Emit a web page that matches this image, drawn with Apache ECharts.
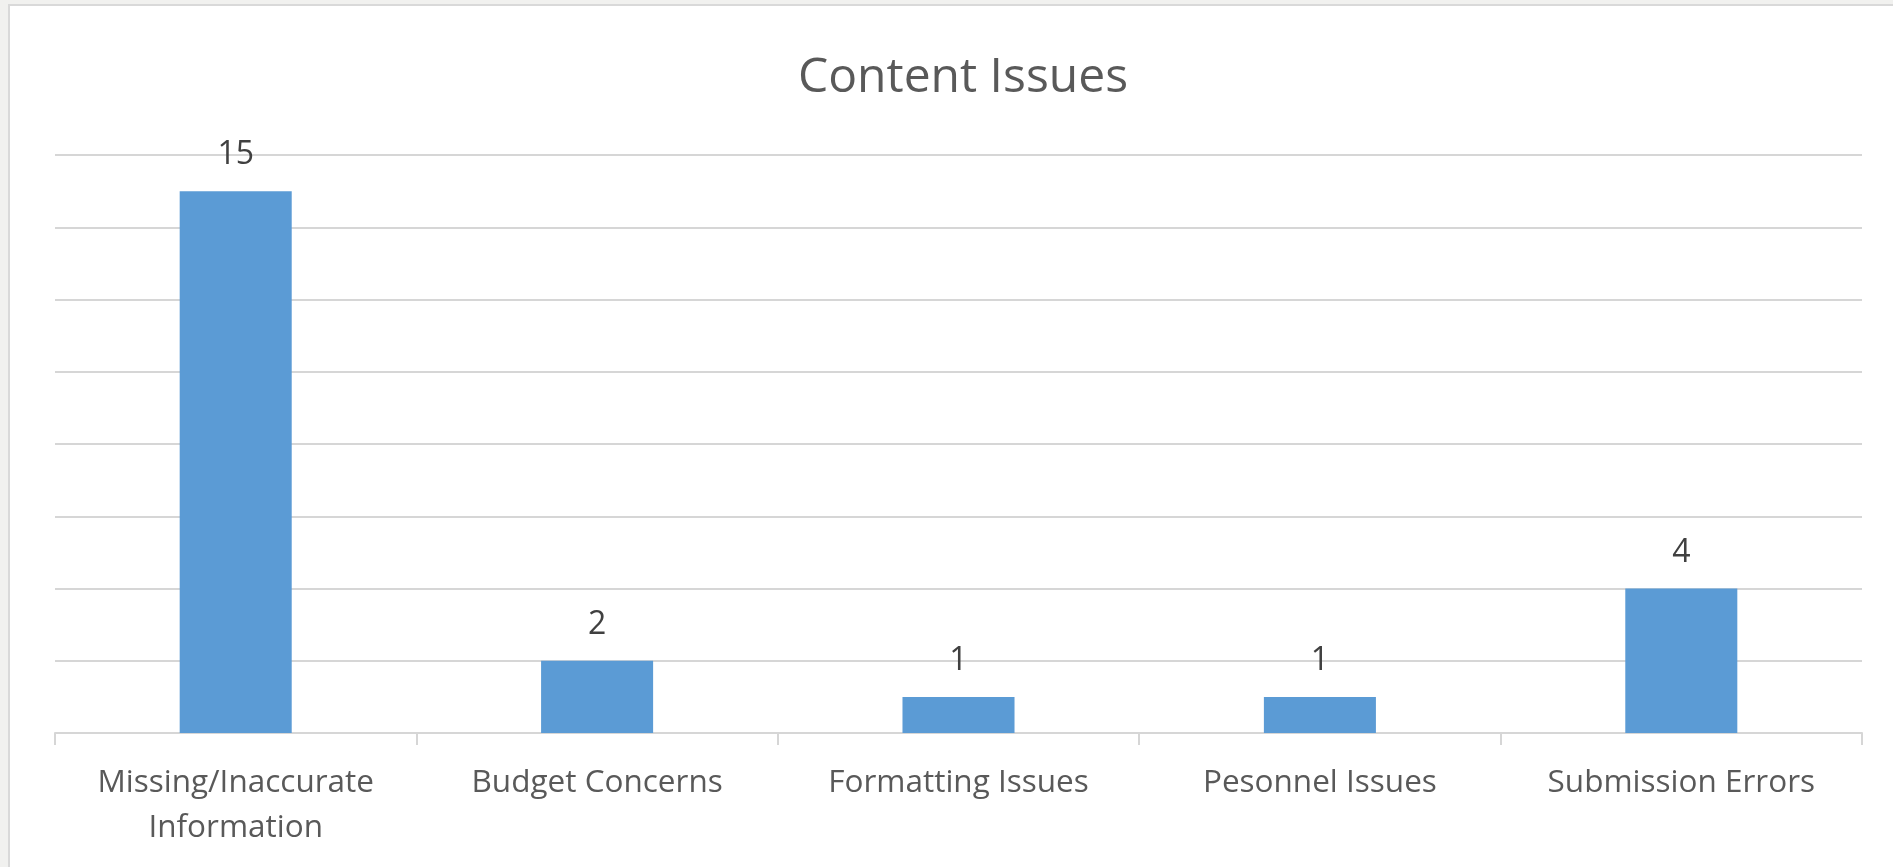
<!DOCTYPE html>
<html>
<head>
<meta charset="utf-8">
<script src="https://cdn.jsdelivr.net/npm/echarts@6/dist/echarts.min.js"></script>
<style>
  html, body { margin: 0; padding: 0; width: 1893px; height: 867px; background: #f1f1ef; overflow: hidden; }
  #frame { position: absolute; left: 8px; top: 4px; right: -4px; bottom: -4px; background: #ffffff; border: 2px solid #d9d9d9; }
  #chart { position: absolute; left: 0; top: 0; width: 1893px; height: 867px; }
</style>
</head>
<body>
<div id="frame"></div>
<div id="chart"></div>
<script>
const titleText = 'Content Issues';
const categories = ['Missing/Inaccurate\nInformation', 'Budget Concerns', 'Formatting Issues', 'Pesonnel Issues', 'Submission Errors'];
const values = [15, 2, 1, 1, 4];
const yMin = 0, yMax = 16, yInterval = 2;

const chart = echarts.init(document.getElementById('chart'), null, { renderer: 'canvas' });
chart.setOption({
  backgroundColor: 'transparent',
  animation: false,
  title: {
    text: titleText,
    left: 958,
    top: 44,
    textAlign: 'center',
    textStyle: { fontFamily: 'Open Sans', fontSize: 48, fontWeight: 'normal', color: '#595959', lineHeight: 58 }
  },
  grid: { left: 55, right: 31, top: 155, bottom: 134, containLabel: false },
  xAxis: {
    type: 'category',
    data: categories,
    boundaryGap: true,
    axisLine: { show: true, lineStyle: { color: '#d6d6d6', width: 2 } },
    axisTick: { show: true, length: 12, alignWithLabel: false, lineStyle: { color: '#d6d6d6', width: 2 } },
    axisLabel: { margin: 28, fontFamily: 'Open Sans', fontSize: 31.5, color: '#595959', lineHeight: 45, interval: 0 }
  },
  yAxis: {
    type: 'value',
    min: yMin, max: yMax, interval: yInterval,
    axisLine: { show: false },
    axisTick: { show: false },
    axisLabel: { show: false },
    splitLine: { show: true, lineStyle: { color: '#d6d6d6', width: 2 } }
  },
  series: [{
    type: 'bar',
    data: values,
    barWidth: '31%',
    itemStyle: { color: '#5b9bd5' },
    label: { show: true, position: 'top', distance: 16, fontFamily: 'Open Sans', fontSize: 32, color: '#404040', lineHeight: 40 }
  }]
});
</script>
</body>
</html>
